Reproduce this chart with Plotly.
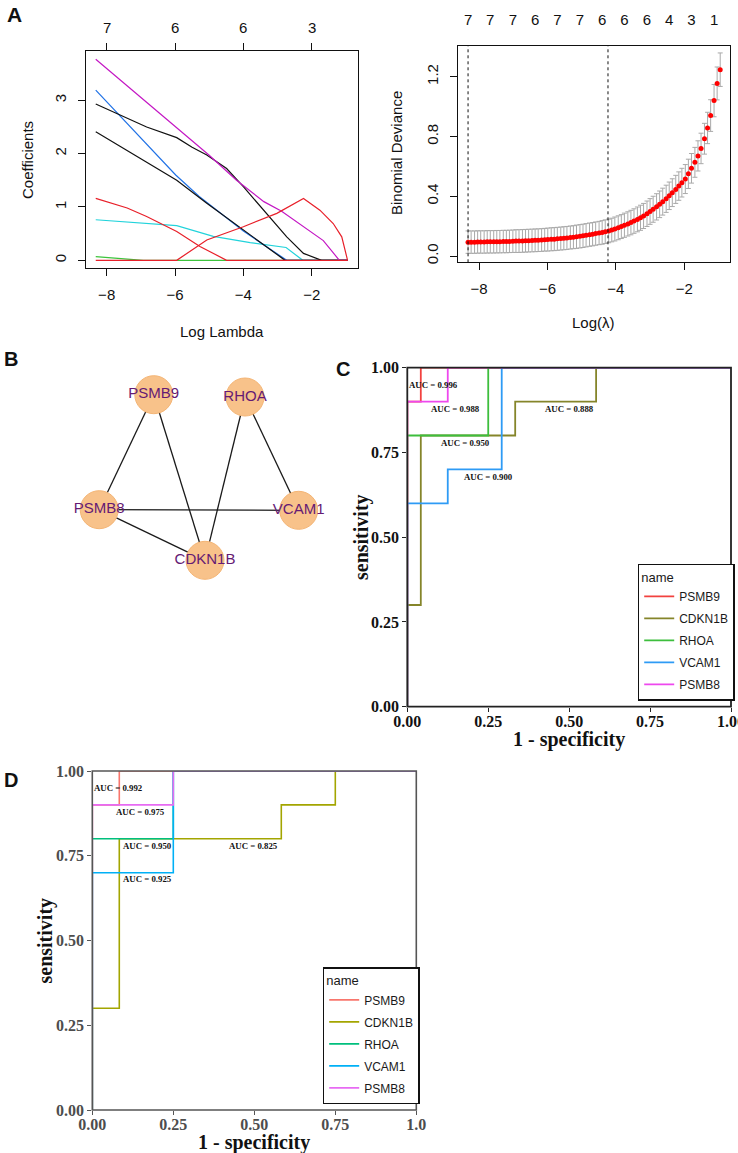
import plotly.graph_objects as go

W, H = 738, 1153
SANS = "Liberation Sans, Arial, sans-serif"
SERIF = "Liberation Serif, Times New Roman, serif"

# ---------------- Panel A (left): LASSO coefficient paths ----------------
path_magenta_x = [-8.32, -5.0, -4.2, -3.4, -2.88, -1.66, -1.19, -0.95]
path_magenta_y = [3.77, 1.97, 1.5, 1.1, 0.92, 0.37, 0.0, 0.0]
path_black1_x = [-8.32, -7.6, -6.83, -5.95, -5.5, -5.07, -4.49, -4.0, -3.32, -2.73, -2.24, -1.71, -0.95]
path_black1_y = [2.93, 2.72, 2.5, 2.3, 2.12, 1.975, 1.72, 1.38, 0.88, 0.44, 0.13, 0.0, 0.0]
path_blue_x = [-8.32, -5.98, -5.3, -4.0, -2.73, -0.95]
path_blue_y = [3.19, 1.6, 1.2, 0.55, 0.0, 0.0]
path_black2_x = [-8.32, -5.95, -5.07, -4.0, -2.78, -0.95]
path_black2_y = [2.41, 1.5, 1.07, 0.57, 0.0, 0.0]
path_cyan_x = [-8.32, -5.95, -4.88, -3.8, -2.75, -2.26, -0.95]
path_cyan_y = [0.76, 0.65, 0.45, 0.33, 0.24, 0.0, 0.0]
path_green_x = [-8.32, -6.93, -0.95]
path_green_y = [0.07, 0.0, 0.0]
path_red1_x = [-8.32, -7.4, -6.83, -5.95, -5.27, -4.49, -0.95]
path_red1_y = [1.16, 0.98, 0.82, 0.54, 0.26, 0.0, 0.0]
path_red2_x = [-8.32, -5.95, -5.07, -4.0, -3.02, -2.24, -1.76, -1.37, -1.12, -0.95]
path_red2_y = [0.0, 0.0, 0.38, 0.63, 0.88, 1.16, 0.94, 0.69, 0.44, 0.0]
coef_top_ticks = [-8, -6, -4, -2]
coef_top_labels = ["7", "6", "6", "3"]

# ---------------- Panel A (right): cross-validation curve ----------------
cv_log_lambda = [
    -8.32, -8.23, -8.13, -8.04, -7.95, -7.85, -7.76, -7.67, -7.57, -7.48,
    -7.39, -7.29, -7.20, -7.11, -7.01, -6.92, -6.83, -6.73, -6.64, -6.55,
    -6.45, -6.36, -6.27, -6.17, -6.08, -5.99, -5.89, -5.80, -5.71, -5.61,
    -5.52, -5.43, -5.33, -5.24, -5.15, -5.05, -4.96, -4.87, -4.77, -4.68,
    -4.59, -4.49, -4.40, -4.31, -4.21, -4.12, -4.03, -3.93, -3.84, -3.75,
    -3.65, -3.56, -3.47, -3.37, -3.28, -3.19, -3.09, -3.00, -2.91, -2.81,
    -2.72, -2.63, -2.53, -2.44, -2.35, -2.25, -2.16, -2.07, -1.97, -1.88,
    -1.79, -1.69, -1.60, -1.51, -1.41, -1.32, -1.23, -1.13, -1.04, -0.95]
cv_deviance = [
    0.093, 0.093, 0.093, 0.094, 0.094, 0.094, 0.095, 0.095, 0.095, 0.096,
    0.096, 0.097, 0.097, 0.098, 0.099, 0.100, 0.100, 0.101, 0.102, 0.103,
    0.104, 0.105, 0.106, 0.107, 0.109, 0.110, 0.112, 0.113, 0.115, 0.117,
    0.119, 0.121, 0.124, 0.126, 0.129, 0.132, 0.135, 0.139, 0.143, 0.146,
    0.150, 0.154, 0.158, 0.163, 0.168, 0.174, 0.181, 0.189, 0.197, 0.206,
    0.215, 0.224, 0.234, 0.245, 0.256, 0.268, 0.283, 0.298, 0.313, 0.329,
    0.346, 0.364, 0.383, 0.403, 0.424, 0.446, 0.468, 0.491, 0.515, 0.550,
    0.587, 0.627, 0.670, 0.720, 0.785, 0.857, 0.940, 1.040, 1.155, 1.247]
cv_se = [
    0.075, 0.075, 0.075, 0.075, 0.075, 0.075, 0.075, 0.075, 0.075, 0.075,
    0.075, 0.075, 0.075, 0.075, 0.075, 0.076, 0.076, 0.076, 0.076, 0.076,
    0.076, 0.076, 0.076, 0.076, 0.076, 0.077, 0.077, 0.077, 0.077, 0.077,
    0.077, 0.077, 0.077, 0.077, 0.078, 0.078, 0.078, 0.078, 0.078, 0.078,
    0.078, 0.078, 0.079, 0.079, 0.079, 0.079, 0.080, 0.080, 0.080, 0.081,
    0.081, 0.082, 0.082, 0.083, 0.084, 0.084, 0.085, 0.086, 0.087, 0.088,
    0.089, 0.090, 0.091, 0.092, 0.093, 0.094, 0.095, 0.096, 0.097, 0.098,
    0.099, 0.100, 0.101, 0.102, 0.103, 0.105, 0.106, 0.108, 0.110, 0.112]
cv_nonzero = ["7", "7", "7", "6", "7", "7", "6", "6", "6", "4", "3", "1"]
cv_lambda_min = -8.32
cv_lambda_1se = -4.23

# ---------------- Panel B: interaction network ----------------
net_nodes = ["PSMB9", "RHOA", "PSMB8", "VCAM1", "CDKN1B"]
net_node_x = [153.8, 245.0, 99.2, 298.7, 205.0]
net_node_y = [394.7, 397.0, 509.7, 510.3, 560.3]
net_edges = [("PSMB9", "PSMB8"), ("PSMB9", "CDKN1B"), ("RHOA", "CDKN1B"),
             ("RHOA", "VCAM1"), ("PSMB8", "VCAM1"), ("PSMB8", "CDKN1B")]

# ---------------- Panel C: ROC curves (training) ----------------
roc_genes = ["PSMB9", "CDKN1B", "RHOA", "VCAM1", "PSMB8"]
c_fpr = {
    "PSMB9": [0, 0, 0.0417, 0.0417, 1],
    "CDKN1B": [0, 0, 0.0417, 0.0417, 0.3333, 0.3333, 0.5833, 0.5833, 1],
    "RHOA": [0, 0, 0.25, 0.25, 1],
    "VCAM1": [0, 0, 0.125, 0.125, 0.2917, 0.2917, 1],
    "PSMB8": [0, 0, 0.125, 0.125, 1],
}
c_tpr = {
    "PSMB9": [0, 0.9, 0.9, 1, 1],
    "CDKN1B": [0, 0.3, 0.3, 0.8, 0.8, 0.9, 0.9, 1, 1],
    "RHOA": [0, 0.8, 0.8, 1, 1],
    "VCAM1": [0, 0.6, 0.6, 0.7, 0.7, 1, 1],
    "PSMB8": [0, 0.9, 0.9, 1, 1],
}
c_auc = {"PSMB9": "0.996", "PSMB8": "0.988", "RHOA": "0.950", "VCAM1": "0.900", "CDKN1B": "0.888"}
c_auc_pos = {"PSMB9": (0.080, 0.949), "PSMB8": (0.150, 0.877), "RHOA": (0.181, 0.779),
             "VCAM1": (0.250, 0.678), "CDKN1B": (0.500, 0.877)}

# ---------------- Panel D: ROC curves (validation) ----------------
d_fpr = {
    "PSMB9": [0, 0, 0.0833, 0.0833, 1],
    "CDKN1B": [0, 0, 0.0833, 0.0833, 0.5833, 0.5833, 0.75, 0.75, 1],
    "RHOA": [0, 0, 0.25, 0.25, 1],
    "VCAM1": [0, 0, 0.25, 0.25, 1],
    "PSMB8": [0, 0, 0.25, 0.25, 1],
}
d_tpr = {
    "PSMB9": [0, 0.9, 0.9, 1, 1],
    "CDKN1B": [0, 0.3, 0.3, 0.8, 0.8, 0.9, 0.9, 1, 1],
    "RHOA": [0, 0.8, 0.8, 1, 1],
    "VCAM1": [0, 0.7, 0.7, 1, 1],
    "PSMB8": [0, 0.9, 0.9, 1, 1],
}
d_auc = {"PSMB9": "0.992", "PSMB8": "0.975", "RHOA": "0.950", "VCAM1": "0.925", "CDKN1B": "0.825"}
d_auc_pos = {"PSMB9": (0.080, 0.949), "PSMB8": (0.149, 0.878), "RHOA": (0.170, 0.779),
             "VCAM1": (0.170, 0.681), "CDKN1B": (0.499, 0.779)}

roc_ticks = [0, 0.25, 0.5, 0.75, 1.0]
roc_tick_text_y = ["0.00", "0.25", "0.50", "0.75", "1.00"]
roc_tick_text_x_c = ["0.00", "0.25", "0.50", "0.75", "1.00"]
roc_tick_text_x_d = ["0.00", "0.25", "0.50", "0.75", "1.0"]

# ---------------- styles ----------------
coef_colors = {"magenta": "#C418C4", "black1": "#111111", "blue": "#2273E6", "black2": "#111111",
               "cyan": "#22D3DB", "green": "#3CC43C", "red1": "#E8202A", "red2": "#E8202A"}
c_colors = {"PSMB9": "#F2423F", "CDKN1B": "#85852A", "RHOA": "#3DBE3D", "VCAM1": "#2E9BF5", "PSMB8": "#EE48EE"}
d_colors = {"PSMB9": "#F8766D", "CDKN1B": "#A3A500", "RHOA": "#00BF7D", "VCAM1": "#00B0F6", "PSMB8": "#E76BF3"}


def fx(p):
    return p / W


def fy(p):
    return 1 - p / H


fig = go.Figure()

# Panel A left
paths = [("green", path_green_x, path_green_y), ("cyan", path_cyan_x, path_cyan_y),
         ("blue", path_blue_x, path_blue_y), ("black2", path_black2_x, path_black2_y),
         ("black1", path_black1_x, path_black1_y), ("magenta", path_magenta_x, path_magenta_y),
         ("red1", path_red1_x, path_red1_y), ("red2", path_red2_x, path_red2_y)]
for key, xs, ys in paths:
    fig.add_trace(go.Scatter(x=xs, y=ys, mode="lines", line=dict(color=coef_colors[key], width=1.2),
                             xaxis="x", yaxis="y", showlegend=False, hoverinfo="skip"))
fig.add_trace(go.Scatter(x=coef_top_ticks, y=[None] * len(coef_top_ticks), xaxis="x2", yaxis="y",
                         showlegend=False, hoverinfo="skip", mode="markers"))

# Panel A right
fig.add_trace(go.Scatter(x=cv_log_lambda, y=cv_deviance, mode="markers",
                         marker=dict(color="#FF0000", size=5),
                         error_y=dict(type="data", array=cv_se, color="#A9A9A9", thickness=1, width=2.5),
                         xaxis="x3", yaxis="y3", showlegend=False, hoverinfo="skip"))
top_pos = cv_log_lambda[::7]
fig.add_trace(go.Scatter(x=top_pos, y=[None] * len(top_pos), xaxis="x4", yaxis="y3",
                         showlegend=False, hoverinfo="skip", mode="markers"))
for v in [cv_lambda_min, cv_lambda_1se]:
    fig.add_shape(type="line", xref="x3", yref="y3 domain", x0=v, x1=v, y0=0, y1=1,
                  line=dict(color="#111111", width=1, dash="dot"))

# Panel B
pos = {n: (x, y) for n, x, y in zip(net_nodes, net_node_x, net_node_y)}
ex, ey = [], []
for a, b in net_edges:
    ex += [pos[a][0], pos[b][0], None]
    ey += [pos[a][1], pos[b][1], None]
fig.add_trace(go.Scatter(x=ex, y=ey, mode="lines", line=dict(color="#1a1a1a", width=1.3),
                         xaxis="x5", yaxis="y5", showlegend=False, hoverinfo="skip"))
fig.add_trace(go.Scatter(x=net_node_x, y=net_node_y, mode="markers+text", text=net_nodes,
                         textposition="middle center",
                         textfont=dict(family=SANS, size=15, color="#651A74"),
                         marker=dict(size=38, color="#F8C28A", line=dict(color="#F4B575", width=1)),
                         xaxis="x5", yaxis="y5", showlegend=False, hoverinfo="skip"))

# Panel C and D
for gene in roc_genes:
    fig.add_trace(go.Scatter(x=c_fpr[gene], y=c_tpr[gene], mode="lines", name=gene,
                             line=dict(color=c_colors[gene], width=1.8, shape="linear"),
                             xaxis="x6", yaxis="y6", legend="legend", legendgroup="c" + gene,
                             hoverinfo="skip"))
for gene in roc_genes:
    fig.add_trace(go.Scatter(x=d_fpr[gene], y=d_tpr[gene], mode="lines", name=gene,
                             line=dict(color=d_colors[gene], width=1.6),
                             xaxis="x7", yaxis="y7", legend="legend2", legendgroup="d" + gene,
                             hoverinfo="skip"))
# panel borders drawn over the curves (as ggplot's panel.border)
fig.add_shape(type="rect", xref="x6 domain", yref="y6 domain", x0=0, x1=1, y0=0, y1=1,
              line=dict(color="#222222", width=1.8), layer="above")
fig.add_shape(type="rect", xref="x7 domain", yref="y7 domain", x0=0, x1=1, y0=0, y1=1,
              line=dict(color="#555555", width=1.6), layer="above")

ann = []
for gene in roc_genes:
    x, y = c_auc_pos[gene]
    ann.append(dict(x=x, y=y, xref="x6", yref="y6", text="AUC = " + c_auc[gene], showarrow=False,
                    font=dict(family=SERIF, size=8.8, color="#111111", weight="bold")))
    x, y = d_auc_pos[gene]
    ann.append(dict(x=x, y=y, xref="x7", yref="y7", text="AUC = " + d_auc[gene], showarrow=False,
                    font=dict(family=SERIF, size=8.8, color="#111111", weight="bold")))

# top labels (number of non-zero coefficients) of the coefficient path plot
for tv, tl in zip(coef_top_ticks, coef_top_labels):
    ann.append(dict(x=tv, y=1 - 27 / H, xref="x", yref="paper", text=tl, showarrow=False,
                    xanchor="center", yanchor="middle", font=dict(family=SANS, size=15, color="#111111")))


def txt(x, y, s, size, family=SANS, bold=False, angle=0, color="#111111"):
    ann.append(dict(x=fx(x), y=fy(y), xref="paper", yref="paper", text=s, showarrow=False,
                    textangle=angle, xanchor="center", yanchor="middle",
                    font=dict(family=family, size=size, color=color, weight="bold" if bold else "normal")))


txt(14, 15, "A", 21, bold=True)
txt(11, 359, "B", 20, bold=True)
txt(343, 369, "C", 20, bold=True)
txt(11, 780, "D", 20, bold=True)
txt(27, 160, "Coefficients", 15, angle=-90)
txt(222, 332, "Log Lambda", 15)
txt(397, 153, "Binomial Deviance", 15, angle=-90)
txt(593, 322, "Log(λ)", 15)
txt(361, 537, "sensitivity", 20, family=SERIF, bold=True, angle=-90)
txt(569, 739, "1 - specificity", 20, family=SERIF, bold=True)
txt(45, 940.5, "sensitivity", 20, family=SERIF, bold=True, angle=-90)
txt(254, 1142.7, "1 - specificity", 20, family=SERIF, bold=True)

r_axis = dict(showline=True, mirror=True, linecolor="#111111", linewidth=1, ticks="outside",
              ticklen=7, tickcolor="#111111", showgrid=False, zeroline=False, automargin=False,
              tickfont=dict(family=SANS, size=15, color="#111111"))
roc_axis_c = dict(showline=False, ticks="outside", automargin=False, ticklabeloverflow="allow",
                  ticklen=4, tickcolor="#222222", tickwidth=1.2, showgrid=False, zeroline=False, range=[0, 1],
                  tickvals=roc_ticks, tickfont=dict(family=SERIF, size=16, color="#111111", weight="bold"))
roc_axis_d = dict(showline=False, ticks="outside", automargin=False, ticklabeloverflow="allow",
                  ticklen=4, tickcolor="#555555", tickwidth=1.1, showgrid=False, zeroline=False, range=[0, 1],
                  tickvals=roc_ticks, tickfont=dict(family=SERIF, size=16, color="#4D4D4D", weight="bold"))

leg_common = dict(xanchor="left", yanchor="top", bgcolor="white", bordercolor="#111111", borderwidth=1.5,
                  font=dict(family=SANS, size=12, color="#1a1a1a"), tracegroupgap=3,
                  title=dict(text="name", font=dict(family=SANS, size=13, color="#1a1a1a")))

fig.update_layout(
    template="none",
    width=W, height=H, margin=dict(l=0, r=0, t=0, b=0, pad=0), autosize=False,
    paper_bgcolor="white", plot_bgcolor="white", showlegend=True,
    xaxis=dict(r_axis, domain=[fx(86), fx(358.3)], range=[-8.605, -0.636], tickvals=[-8, -6, -4, -2],
               anchor="y", ticklabelstandoff=6),
    yaxis=dict(r_axis, domain=[fy(268.3), fy(51)], range=[-0.15, 3.925], tickvals=[0, 1, 2, 3],
               tickangle=-90, anchor="x", ticklabelstandoff=6),
    xaxis2=dict(r_axis, overlaying="x", side="top", anchor="y", range=[-8.605, -0.636],
                tickvals=coef_top_ticks, showticklabels=False, showline=False),
    xaxis3=dict(r_axis, domain=[fx(458.3), fx(730)], range=[-8.605, -0.664], tickvals=[-8, -6, -4, -2],
                anchor="y3", ticklabelstandoff=6),
    yaxis3=dict(r_axis, domain=[fy(262.3), fy(45.7)], range=[-0.042, 1.4075], tickvals=[0, 0.4, 0.8, 1.2],
                ticktext=["0.0", "0.4", "0.8", "1.2"], tickangle=-90, anchor="x3", ticklabelstandoff=6),
    xaxis4=dict(r_axis, overlaying="x3", side="top", anchor="y3", range=[-8.605, -0.664],
                tickvals=top_pos, ticktext=cv_nonzero, ticks="", showline=False, ticklabelstandoff=17),
    xaxis5=dict(domain=[0, fx(360)], range=[0, 360], visible=False, anchor="y5", automargin=False),
    yaxis5=dict(domain=[fy(600), fy(330)], range=[600, 330], visible=False, anchor="x5", automargin=False),
    xaxis6=dict(roc_axis_c, domain=[fx(407.3), fx(731)], anchor="y6", ticktext=roc_tick_text_x_c,
                ticklabelstandoff=-4),
    yaxis6=dict(roc_axis_c, domain=[fy(706.7), fy(367.7)], anchor="x6", ticktext=roc_tick_text_y),
    xaxis7=dict(roc_axis_d, domain=[fx(92.3), fx(416.3)], anchor="y7", ticktext=roc_tick_text_x_d,
                ticklabelstandoff=-4),
    yaxis7=dict(roc_axis_d, domain=[fy(1110), fy(771)], anchor="x7", ticktext=roc_tick_text_y),
    legend=dict(leg_common, x=fx(637.7), y=fy(563.5)),
    legend2=dict(leg_common, x=fx(322.7), y=fy(967)),
    annotations=ann,
)

fig.write_html("out.html", config={"displayModeBar": False},
               post_script="document.body.style.margin='0';document.body.style.overflow='hidden';")
